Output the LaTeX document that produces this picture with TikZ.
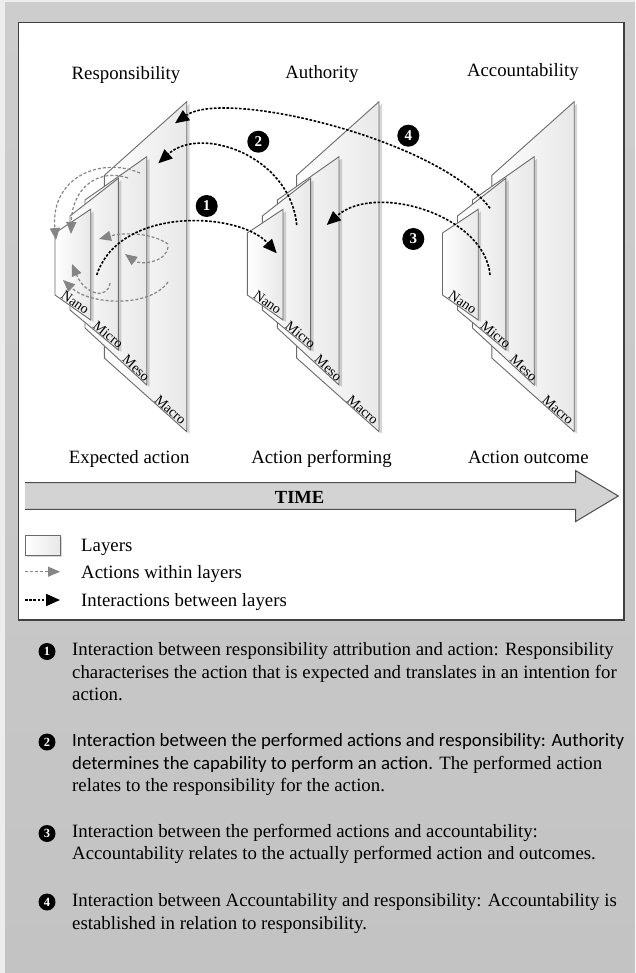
\documentclass[tikz,border=0pt]{standalone}
\usepackage{fontspec}
\setmainfont{Liberation Serif}
\newfontfamily\carlito{Carlito}
\usetikzlibrary{arrows.meta}
\definecolor{outerlight}{HTML}{EDEDED}
\definecolor{bgtop}{HTML}{CDCDCD}
\definecolor{bgbot}{HTML}{C3C3C3}
\definecolor{timefill}{HTML}{D3D3D3}
\tikzset{
  panel/.style={draw=black!58, line width=0.9pt, left color=white, right color=black!9},
  panelshadow/.style={fill=black, opacity=0.16},
  blackarc/.style={draw=black, line width=1.6pt, dash pattern=on 2.6pt off 1.6pt, -{Triangle[length=14pt,width=12pt]}},
  greyarc/.style={draw=black!48, line width=1.2pt, dash pattern=on 3pt off 2pt, -{Triangle[length=12pt,width=10pt]}},
  numcirc/.style={circle, fill=black, text=white, inner sep=0pt, minimum size=22pt, font=\fontsize{15}{15}\selectfont\bfseries},
  listcirc/.style={circle, fill=black, text=white, inner sep=0pt, minimum size=17pt, font=\fontsize{12.5}{12.5}\selectfont\bfseries},
  head/.style={anchor=base, font=\fontsize{18.8}{20}\selectfont, inner sep=0pt},
  body/.style={anchor=base west, font=\fontsize{18.8}{20}\selectfont, inner sep=0pt},
  layerlabel/.style={font=\fontsize{14}{14}\selectfont, inner sep=0.5pt},
}
% #1 xl, #2 xr, #3 y top-left, #4 y top-right, #5 y bottom-right, #6 y bottom-left, #7 label, #8 pos, #9 name
\newcommand{\onepanel}[9]{%
  \fill[panelshadow] (#1+3,#3+2) -- (#2+3,#4+2) -- (#2+3,#5+2) -- (#1+3,#6+2) -- cycle;
  \draw[panel] (#1,#3) -- (#2,#4) -- (#2,#5) -- (#1,#6) -- cycle;
  \path (#1,#6) -- (#2,#5) node[pos=#8, sloped, above, layerlabel] (#9) {#7};
}
\newcommand{\panelgroup}[2]{%
  \begin{scope}[xshift=#1pt]
    \onepanel{104.3}{186.7}{175.4}{101.7}{431.7}{358}{Macro}{0.76}{#2macro}
    \onepanel{85}{146.7}{200}{156.7}{385}{328}{Meso}{0.77}{#2meso}
    \onepanel{70}{118.3}{216}{178.3}{350}{310}{Micro}{0.72}{#2micro}
    \onepanel{55}{90.7}{233}{209.3}{320}{295}{Nano}{0.48}{#2nano}
  \end{scope}
}
\begin{document}
\begin{tikzpicture}[x=1pt,y=-1pt]
\useasboundingbox (0,0) rectangle (635,973);
\fill[outerlight] (0,0) rectangle (635,973);
\shade[top color=bgtop, bottom color=bgbot] (5,3) rectangle (635,973);
\draw[fill=white, draw=black!75, line width=1.2pt] (18.3,22.7) rectangle (624,620);

% headers
\node[head] (hresp) at (126,80) {Responsibility};
\node[head] (hauth) at (321.9,78.5) {Authority};
\node[head] (hacc) at (522.9,77) {Accountability};

% panel groups
\panelgroup{0}{r}
\panelgroup{192.3}{a}
\panelgroup{387.5}{c}

% grey arcs (actions within layers)
\coordinate (g1s) at (140,173); \coordinate (g1e) at (56,240);
\coordinate (g2s) at (128,178); \coordinate (g2e) at (71,234);
\coordinate (g3s) at (168,244); \coordinate (g3e) at (99,239);
\coordinate (g4s) at (168,247); \coordinate (g4e) at (125,254);
\coordinate (g5s) at (110,283); \coordinate (g5e) at (72,264);
\coordinate (g6s) at (168,282); \coordinate (g6e) at (63,280);
\draw[greyarc] (g1s) .. controls (100,156) and (50,178) .. (g1e);
\draw[greyarc] (g2s) .. controls (98,168) and (72,188) .. (g2e);
\draw[greyarc] (g3s) .. controls (152,233) and (125,232) .. (g3e);
\draw[greyarc] (g4s) .. controls (166,263) and (140,265) .. (g4e);
\draw[greyarc] (g5s) .. controls (108,300) and (85,295) .. (g5e);
\draw[greyarc] (g6s) .. controls (150,308) and (90,305) .. (g6e);

% black arcs (interactions between layers)
\coordinate (a1s) at (96.7,275);  \coordinate (a1e) at (276.7,253.3);
\coordinate (a2s) at (296.7,225); \coordinate (a2e) at (158.3,163.3);
\coordinate (a3s) at (490,275);   \coordinate (a3e) at (326.7,225);
\coordinate (a4s) at (490,208.3); \coordinate (a4e) at (175,123.3);
\draw[blackarc] (a1s) .. controls (120,205) and (240,212) .. (a1e);
\draw[blackarc] (a2s) .. controls (290,155) and (200,125) .. (a2e);
\draw[blackarc] (a3s) .. controls (485,215) and (375,182) .. (a3e);
\draw[blackarc] (a4s) .. controls (440,140) and (225,88) .. (a4e);

\node[numcirc] (n1) at (206.7,206) {1};
\node[numcirc] (n2) at (258.3,141.7) {2};
\node[numcirc] (n3) at (413.3,239) {3};
\node[numcirc] (n4) at (408.3,135.7) {4};

% bottom labels
\node[head] (lexp) at (129.2,463.3) {Expected action};
\node[head] (lperf) at (321.5,463.3) {Action performing};
\node[head] (lout) at (528.3,463.3) {Action outcome};

% time arrow
\fill[timefill] (25,482.7) -- (575.7,482.7) -- (575.7,470.7) -- (618.3,496) -- (575.7,521.5) -- (575.7,509.3) -- (25,509.3) -- cycle;
\draw[black!70, line width=1pt, line join=miter] (25,482.7) -- (575.7,482.7) -- (575.7,470.7) -- (618.3,496) -- (575.7,521.5) -- (575.7,509.3) -- (25,509.3);
\node[anchor=base, inner sep=0pt, font=\fontsize{18.5}{20}\selectfont\bfseries] (time) at (299.6,503) {TIME};

% legend
\fill[panelshadow] (27,537) rectangle (62,557);
\node[panel, minimum width=35pt, minimum height=20pt, inner sep=0pt] (lglayer) at (42.5,545) {};
\coordinate (lg2s) at (25,571.7); \coordinate (lg2e) at (60,571.7);
\coordinate (lg3s) at (25,600);   \coordinate (lg3e) at (60,600);
\draw[greyarc, line width=1pt] (lg2s) -- (lg2e);
\draw[blackarc] (lg3s) -- (lg3e);
\node[body] (lgt1) at (81,551.7) {Layers};
\node[body] (lgt2) at (81,578.3) {Actions within layers};
\node[body] (lgt3) at (81,606) {Interactions between layers};

% numbered explanations
\node[listcirc] (c1) at (47,651.5) {1};
\node[body] (t1a) at (72,655.5) {Interaction between responsibility attribution and action: Responsibility};
\node[body] (t1b) at (72,678.7) {characterises the action that is expected and translates in an intention for};
\node[body] (t1c) at (72,700.5) {action.};
\node[listcirc] (c2) at (47,742) {2};
\node[body] (t2a) at (72,746) {\carlito Interaction between the performed actions and responsibility: Authority};
\node[body] (t2b) at (72,769) {{\carlito determines the capability to perform an action.} The performed action};
\node[body] (t2c) at (72,791) {relates to the responsibility for the action.};
\node[listcirc] (c3) at (47,833.5) {3};
\node[body] (t3a) at (72,837.6) {Interaction between the performed actions and accountability:};
\node[body] (t3b) at (72,859.5) {Accountability relates to the actually performed action and outcomes.};
\node[listcirc] (c4) at (47,902) {4};
\node[body] (t4a) at (72,906.4) {Interaction between Accountability and responsibility: Accountability is};
\node[body] (t4b) at (72,929) {established in relation to responsibility.};
\end{tikzpicture}
\end{document}
